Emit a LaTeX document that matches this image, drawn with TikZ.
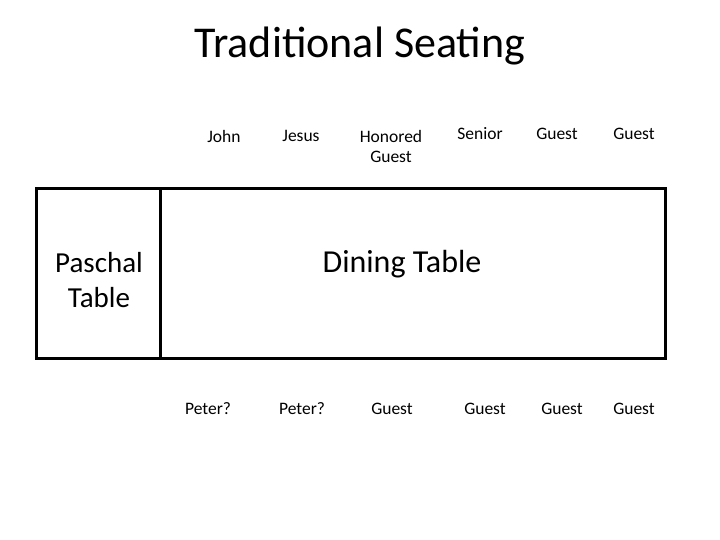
\documentclass[tikz,border=0pt]{standalone}
\usepackage{fontspec}
\setmainfont{Carlito}
\usetikzlibrary{positioning}

\begin{document}
\begin{tikzpicture}[x=1pt,y=-1pt,
    seat/.style={font=\fontsize{17.5}{20}\selectfont,align=center},
    tbl/.style={draw,line width=3pt,inner sep=0pt,outer sep=0pt,minimum height=170pt},
    tbltext/.style={font=\fontsize{29}{35}\selectfont,align=center}]
            \useasboundingbox (0,0) rectangle (720,540);
            \node[font=\fontsize{44}{52}\selectfont] (title) at (360,46) {Traditional Seating};
            % tables
            \node[tbl,minimum width=124pt] (paschal) at (98,273.5) {};
            \node[tbl,minimum width=505pt,anchor=west] (dining) at (paschal.east) {};
            \node[tbltext] (ptext) at (99,280) {Paschal\\Table};
            \node[tbltext,font=\fontsize{32}{38}\selectfont] (dtext) at (402,264) {Dining Table};
            % seats above the table
            \node[seat] (john)   at (224,136) {John};
            \node[seat] (jesus)  at (301,136) {Jesus};
            \node[seat] (honor)  at (391,146) {Honored\\Guest};
            \node[seat] (senior) at (480,134) {Senior};
            \node[seat] (gueA)   at (557,134) {Guest};
            \node[seat] (gueB)   at (634,134) {Guest};
            % seats below the table
            \node[seat] (peterA) at (208,409) {Peter?};
            \node[seat] (peterB) at (302,409) {Peter?};
            \node[seat] (gueC)   at (392,409) {Guest};
            \node[seat] (gueD)   at (485,409) {Guest};
            \node[seat] (gueE)   at (562,409) {Guest};
            \node[seat] (gueF)   at (634,409) {Guest};
\end{tikzpicture}
\end{document}
